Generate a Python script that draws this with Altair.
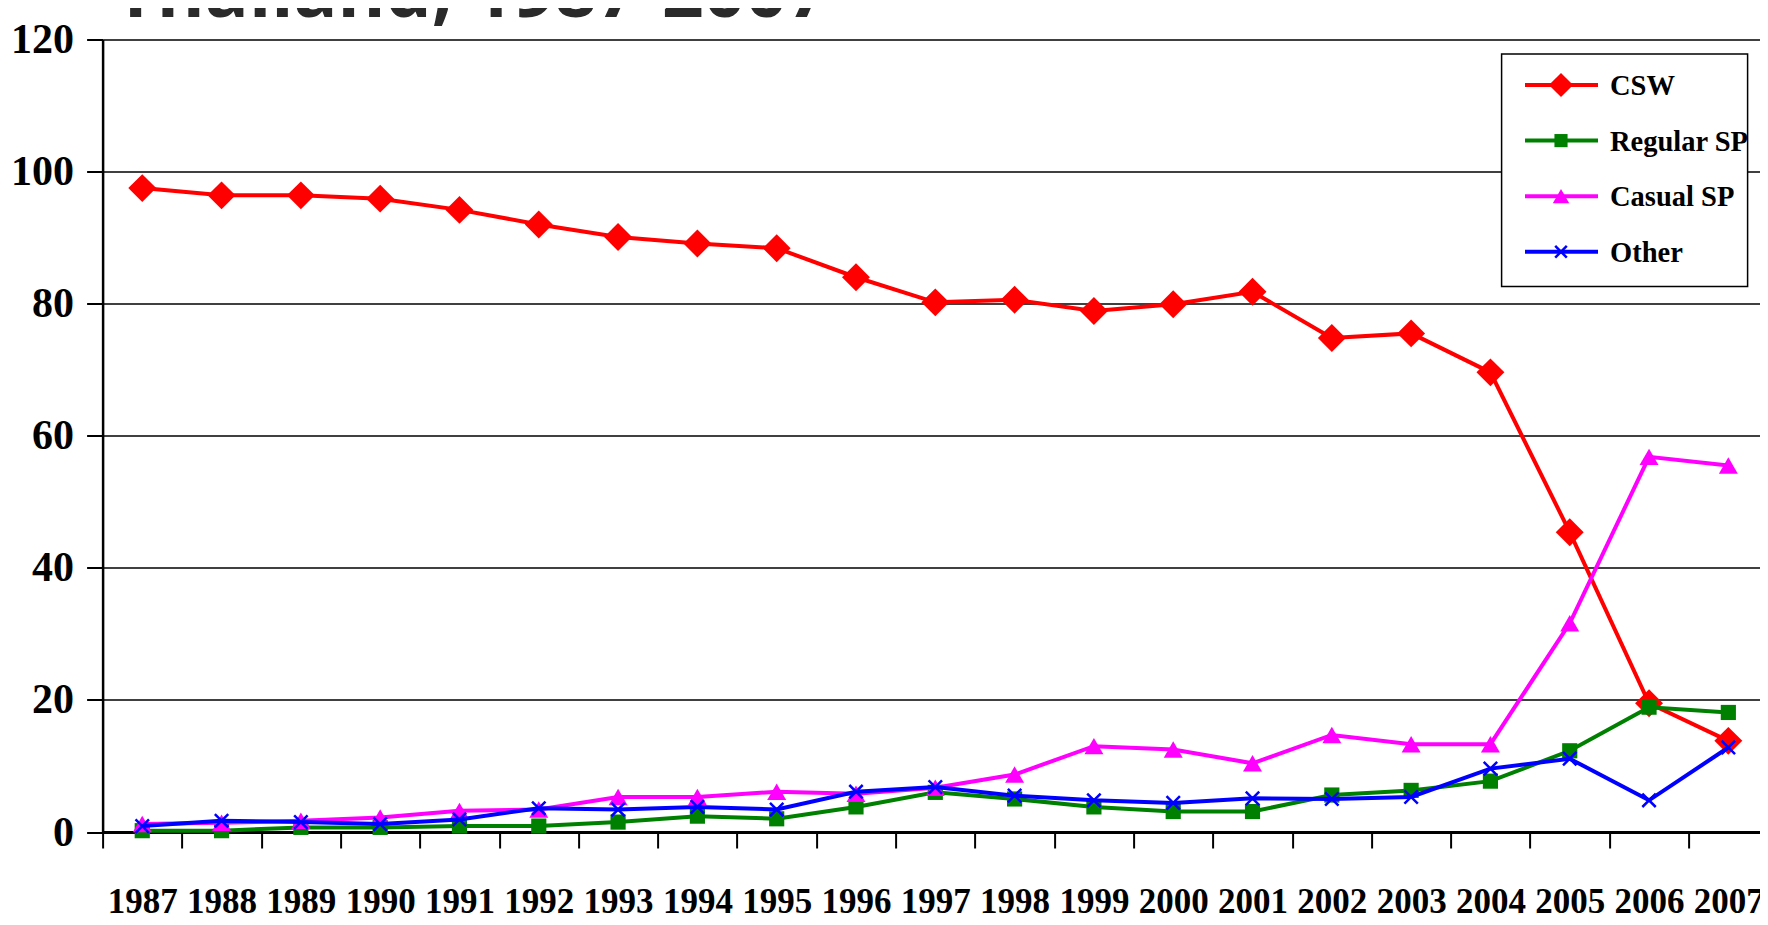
import altair as alt
import pandas as pd

# ---------------- data ----------------
YEARS = [str(y) for y in range(1987, 2008)]
SERIES = ["CSW", "Regular SP", "Casual SP", "Other"]
CSW = [97.5, 96.4, 96.4, 95.9, 94.2, 92.0, 90.1, 89.1, 88.4, 84.0, 80.2,
       80.6, 78.9, 79.9, 81.8, 74.8, 75.5, 69.6, 45.4, 19.5, 13.8]
REGULAR_SP = [0.2, 0.2, 0.7, 0.7, 0.9, 0.9, 1.5, 2.4, 2.0, 3.8, 6.0,
              5.0, 3.8, 3.1, 3.1, 5.6, 6.3, 7.7, 12.3, 18.9, 18.1]
CASUAL_SP = [1.2, 1.4, 1.7, 2.2, 3.2, 3.4, 5.3, 5.3, 6.1, 5.8, 6.7,
             8.7, 13.0, 12.5, 10.4, 14.7, 13.3, 13.3, 31.6, 56.8, 55.5]
OTHER = [0.9, 1.7, 1.5, 1.2, 1.9, 3.6, 3.4, 3.8, 3.4, 6.1, 6.8,
         5.5, 4.8, 4.4, 5.1, 5.0, 5.3, 9.6, 11.1, 4.8, 12.8]
Y_TICKS = [0, 20, 40, 60, 80, 100, 120]
TITLE = "Thailand, 1987-2007"

# ---------------- styles ----------------
COLORS = ["#ff0000", "#008000", "#ff00ff", "#0000ff"]
X_SHAPE = "M-1,-1L1,1M-1,1L1,-1"
MARKERS = [
    dict(shape="diamond", filled=True, size=780),
    dict(shape="square", filled=True, size=230),
    dict(shape="triangle-up", filled=True, size=360),
    dict(shape=X_SHAPE, filled=False, size=180, strokeWidth=2.5),
]
SERIF = "Liberation Serif"

W, H = 1665.4, 792.5

values = [CSW, REGULAR_SP, CASUAL_SP, OTHER]
rows = []
for name, vals in zip(SERIES, values):
    for yr, v in zip(YEARS, vals):
        rows.append({"year": yr, "series": name, "value": v})
df = pd.DataFrame(rows)

x_enc = alt.X(
    "year:O",
    sort=YEARS,
    scale=alt.Scale(type="band", domain=YEARS, paddingInner=0, paddingOuter=0),
    axis=alt.Axis(
        title=None, labelAngle=0, tickBand="extent", grid=False,
        domainColor="black", domainWidth=3, tickColor="black", tickWidth=2,
        tickSize=16, labelFont=SERIF, labelFontWeight="bold", labelFontSize=35,
        labelColor="black", labelPadding=36, labelOverlap=False,
    ),
)
y_enc = alt.Y(
    "value:Q",
    scale=alt.Scale(domain=[0, 120], nice=False, zero=True),
    axis=alt.Axis(
        title=None, values=Y_TICKS, grid=True, gridColor="black", gridWidth=1.5,
        gridOpacity=1, domainColor="black", domainWidth=2.5, tickColor="black",
        tickWidth=2, tickSize=16, labelFont=SERIF, labelFontWeight="bold",
        labelFontSize=42, labelColor="black", labelPadding=13,
    ),
)

layers = []
for i, name in enumerate(SERIES):
    base = alt.Chart(df).transform_filter(alt.datum.series == name)
    layers.append(
        base.mark_line(color=COLORS[i], strokeWidth=4).encode(x=x_enc, y=y_enc)
    )
    m = MARKERS[i]
    pkw = dict(shape=m["shape"], filled=m["filled"], size=m["size"], opacity=1)
    if m["filled"]:
        pkw.update(fill=COLORS[i], stroke=COLORS[i], strokeWidth=0)
    else:
        pkw.update(stroke=COLORS[i], strokeWidth=m["strokeWidth"])
    layers.append(base.mark_point(**pkw).encode(x=x_enc, y=y_enc))

# ---------------- legend (drawn manually) ----------------
LEG_BOX = dict(x=1399, x2=1645, y=14.5, y2=247)
LEG_Y0, LEG_DY = 45.5, 55.6
LEG_LX1, LEG_LX2, LEG_MX, LEG_TX = 1422.4, 1495.4, 1458.4, 1507.4

one = pd.DataFrame({"k": [0]})
layers.append(
    alt.Chart(one).mark_rect(fill="white", stroke="black", strokeWidth=1.5).encode(
        x=alt.value(LEG_BOX["x"]), x2=alt.value(LEG_BOX["x2"]),
        y=alt.value(LEG_BOX["y"]), y2=alt.value(LEG_BOX["y2"]),
    )
)
for i, name in enumerate(SERIES):
    ly = LEG_Y0 + i * LEG_DY
    d = pd.DataFrame({"series": [name]})
    layers.append(
        alt.Chart(d).mark_rule(color=COLORS[i], strokeWidth=4).encode(
            x=alt.value(LEG_LX1), x2=alt.value(LEG_LX2), y=alt.value(ly)
        )
    )
    m = MARKERS[i]
    pkw = dict(shape=m["shape"], filled=m["filled"], size=m["size"] * 0.75, opacity=1)
    if m["filled"]:
        pkw.update(fill=COLORS[i], stroke=COLORS[i], strokeWidth=0)
    else:
        pkw.update(stroke=COLORS[i], strokeWidth=m["strokeWidth"])
    layers.append(
        alt.Chart(d).mark_point(**pkw).encode(x=alt.value(LEG_MX), y=alt.value(ly))
    )
    layers.append(
        alt.Chart(d).mark_text(
            align="left", baseline="middle", font=SERIF, fontWeight="bold",
            fontSize=28.5, color="black",
        ).encode(x=alt.value(LEG_TX), y=alt.value(ly + 1), text="series:N")
    )

# ---------------- clipped title ----------------
layers.append(
    alt.Chart(pd.DataFrame({"t": [TITLE]})).mark_text(
        align="left", baseline="alphabetic", font="Open Sans", fontWeight="bold",
        fontSize=73, color="#2a2a2a",
    ).encode(x=alt.value(12), y=alt.value(-22.5), text="t:N")
)

chart = (
    alt.layer(*layers)
    .properties(
        width=W, height=H,
        autosize=alt.AutoSizeParams(type="none"),
        padding={"left": 94.6, "top": 31.5, "right": -8, "bottom": 93},
        background="white",
    )
    .configure_view(stroke=None)
)

chart.save("out.html", embed_options={"renderer": "svg", "actions": False})
